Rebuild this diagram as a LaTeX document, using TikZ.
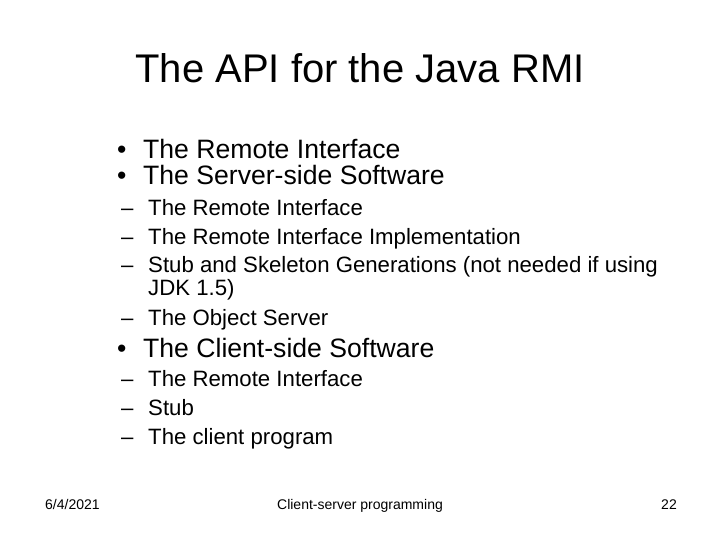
\documentclass[tikz,border=0pt]{standalone}
\usepackage{fontspec}
\setmainfont{Liberation Sans}
\begin{document}
\begin{tikzpicture}[x=1pt,y=-1pt,
  ttl/.style={font=\fontsize{40}{46}\selectfont, inner sep=0pt},
  lone/.style={font=\fontsize{26.6}{30}\selectfont, anchor=base west, inner sep=0pt},
  ltwo/.style={font=\fontsize{22.2}{26}\selectfont, anchor=base west, inner sep=0pt},
  foot/.style={font=\fontsize{14}{16}\selectfont, inner sep=0pt}]
\useasboundingbox (0,0) rectangle (720,540);
\node[ttl] (t) at (360,68) {The API for the Java RMI};
\node[lone] (b1) at (117,159) {•};
\node[lone] (a1) at (143,159) {The Remote Interface};
\node[lone] (b2) at (117,185) {•};
\node[lone] (a2) at (143,185) {The Server-side Software};
\node[ltwo] (d1) at (121,215) {–};
\node[ltwo] (s1) at (148,215) {The Remote Interface};
\node[ltwo] (d2) at (121,244) {–};
\node[ltwo] (s2) at (148,244) {The Remote Interface Implementation};
\node[ltwo] (d3) at (121,272) {–};
\node[ltwo] (s3) at (148,272) {Stub and Skeleton Generations (not needed if using};
\node[ltwo] (s3b) at (148,295) {JDK 1.5)};
\node[ltwo] (d4) at (121,325) {–};
\node[ltwo] (s4) at (148,325) {The Object Server};
\node[lone] (b3) at (117,357) {•};
\node[lone] (a3) at (143,357) {The Client-side Software};
\node[ltwo] (d5) at (121,386) {–};
\node[ltwo] (c1) at (148,386) {The Remote Interface};
\node[ltwo] (d6) at (121,415) {–};
\node[ltwo] (c2) at (148,415) {Stub};
\node[ltwo] (d7) at (121,444) {–};
\node[ltwo] (c3) at (148,444) {The client program};
\node[foot, anchor=base west] (f1) at (45,509) {6/4/2021};
\node[foot, anchor=base] (f2) at (360,509) {Client-server programming};
\node[foot, anchor=base east] (f3) at (677,509) {22};
\end{tikzpicture}
\end{document}
